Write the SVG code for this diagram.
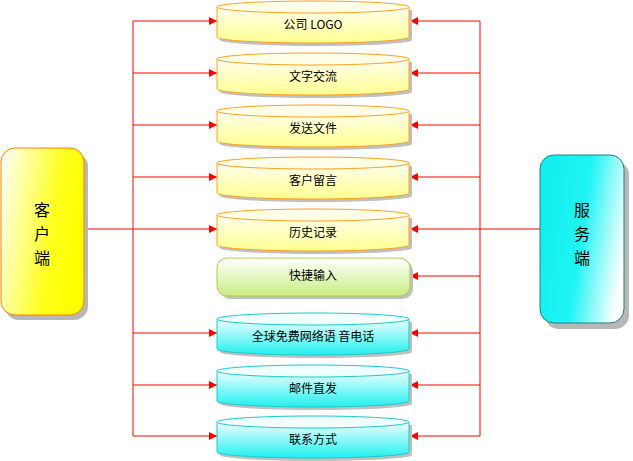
<svg xmlns="http://www.w3.org/2000/svg" width="633" height="461" viewBox="0 0 633 461">
<defs>
<linearGradient id="gy" x1="0" y1="0" x2="0" y2="1"><stop offset="0" stop-color="#fffff0"/><stop offset="1" stop-color="#ffff90"/></linearGradient>
<linearGradient id="gc" x1="0" y1="0" x2="0" y2="1"><stop offset="0" stop-color="#f0ffff"/><stop offset="1" stop-color="#20f0f0"/></linearGradient>
<linearGradient id="gg" x1="0" y1="0" x2="0" y2="1"><stop offset="0" stop-color="#ffffff"/><stop offset="1" stop-color="#c8ee80"/></linearGradient>
<linearGradient id="gcl" x1="0" y1="0" x2="1" y2="0.3"><stop offset="0" stop-color="#ffffff"/><stop offset="0.7" stop-color="#ffff20"/><stop offset="1" stop-color="#ffff00"/></linearGradient>
<linearGradient id="gsv" x1="1" y1="0.6" x2="0" y2="0.3"><stop offset="0" stop-color="#ffffff"/><stop offset="0.5" stop-color="#20f4f4"/><stop offset="1" stop-color="#10eeee"/></linearGradient>
<marker id="ar" markerWidth="8" markerHeight="8" refX="8" refY="4" orient="auto" markerUnits="userSpaceOnUse"><path d="M0,0 L8,4 L0,8 z" fill="#ff0000"/></marker>
<g id="cyl-y"><path d="M3,9 v30 a96,6 0 0 0 192,0 v-30" fill="#c0c0c0"/><path d="M0,6 v30 a96,6 0 0 0 192,0 v-30" fill="url(#gy)" stroke="#ffa020"/><ellipse cx="96" cy="6" rx="96" ry="6" fill="#ffffe8" stroke="#ffa020"/></g>
<g id="cyl-c"><path d="M3,9 v30 a96,6 0 0 0 192,0 v-30" fill="#c0c0c0"/><path d="M0,6 v30 a96,6 0 0 0 192,0 v-30" fill="url(#gc)" stroke="#20c8c8"/><ellipse cx="96" cy="6" rx="96" ry="6" fill="#f0ffff" stroke="#20c8c8"/></g>
</defs>
<style>text{font-family:"Noto Sans CJK SC","Liberation Sans",sans-serif;font-size:12px;text-anchor:middle;fill:#000}.big{font-size:16px}.ln{stroke:#ff0000;stroke-width:1;fill:none}</style>
<g id="connectors">
<path class="ln" d="M133,21 V436 M84,229 H133"/>
<path class="ln" d="M480,21 V436 M540,229 H480"/>
<g marker-end="url(#ar)" class="ln">
<line x1="133" y1="21" x2="217" y2="21"/><line x1="133" y1="73" x2="217" y2="73"/><line x1="133" y1="125" x2="217" y2="125"/><line x1="133" y1="177" x2="217" y2="177"/><line x1="133" y1="229" x2="217" y2="229"/><line x1="133" y1="333" x2="217" y2="333"/><line x1="133" y1="385" x2="217" y2="385"/><line x1="133" y1="436" x2="217" y2="436"/>
<line x1="480" y1="21" x2="410" y2="21"/><line x1="480" y1="73" x2="410" y2="73"/><line x1="480" y1="125" x2="410" y2="125"/><line x1="480" y1="177" x2="410" y2="177"/><line x1="480" y1="229" x2="410" y2="229"/><line x1="480" y1="276" x2="410" y2="276"/><line x1="480" y1="333" x2="410" y2="333"/><line x1="480" y1="385" x2="410" y2="385"/><line x1="480" y1="436" x2="410" y2="436"/>
</g>
</g>
<g id="client"><rect x="5" y="153" width="83" height="167" rx="14" fill="#b8b8b8"/><rect x="1" y="148" width="83" height="167" rx="14" fill="url(#gcl)" stroke="#ff8000"/><text class="big" x="42" y="216">客</text><text class="big" x="42" y="240">户</text><text class="big" x="42" y="264">端</text></g>
<g id="server"><rect x="545" y="161" width="84" height="168" rx="14" fill="#b8b8b8"/><rect x="540" y="155" width="84" height="168" rx="14" fill="url(#gsv)" stroke="#208080"/><text class="big" x="582" y="216">服</text><text class="big" x="582" y="240">务</text><text class="big" x="582" y="264">端</text></g>
<g id="n1" transform="translate(217,1)"><use href="#cyl-y"/><text x="96" y="28">公司 LOGO</text></g>
<g id="n2" transform="translate(217,53)"><use href="#cyl-y"/><text x="96" y="28">文字交流</text></g>
<g id="n3" transform="translate(217,105)"><use href="#cyl-y"/><text x="96" y="28">发送文件</text></g>
<g id="n4" transform="translate(217,157)"><use href="#cyl-y"/><text x="96" y="28">客户留言</text></g>
<g id="n5" transform="translate(217,209)"><use href="#cyl-y"/><text x="96" y="28">历史记录</text></g>
<g id="n6"><rect x="220" y="261" width="193" height="38" rx="10" fill="#c0c0c0"/><rect x="217" y="258" width="193" height="38" rx="10" fill="url(#gg)" stroke="#a8d040"/><text x="313" y="280">快捷输入</text></g>
<g id="n7" transform="translate(217,313)"><use href="#cyl-c"/><text x="96" y="28">全球免费网络语 音电话</text></g>
<g id="n8" transform="translate(217,365)"><use href="#cyl-c"/><text x="96" y="28">邮件直发</text></g>
<g id="n9" transform="translate(217,416)"><use href="#cyl-c"/><text x="96" y="28">联系方式</text></g>
</svg>
